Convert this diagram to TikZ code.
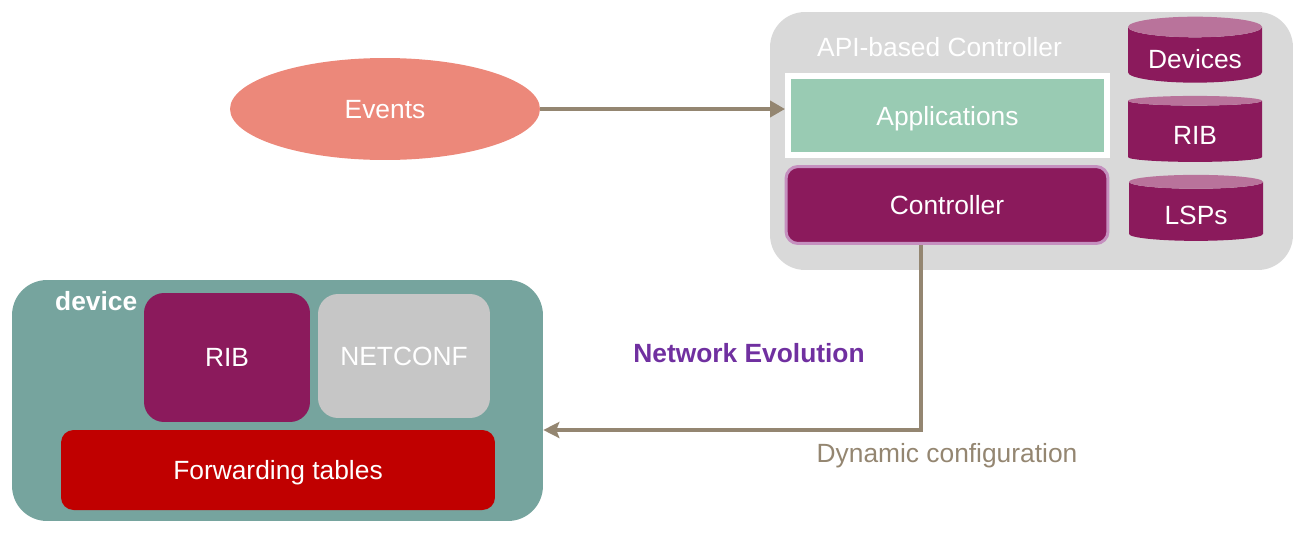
\documentclass[tikz,border=0pt]{standalone}
\usepackage{fontspec}
\setmainfont{Liberation Sans}
\usetikzlibrary{shapes.geometric,arrows.meta,shadows}
\definecolor{evcolor}{HTML}{EC887A}
\definecolor{linkcolor}{HTML}{948671}
\definecolor{boxgrey}{HTML}{D9D9D9}
\definecolor{appgreen}{HTML}{99CBB3}
\definecolor{plum}{HTML}{8B1A5C}
\definecolor{plumlight}{HTML}{C590BF}
\definecolor{plumtop}{HTML}{B9739B}
\definecolor{devteal}{HTML}{76A49E}
\definecolor{confgrey}{HTML}{C6C6C6}
\definecolor{fwdred}{HTML}{C00000}
\definecolor{evopurple}{HTML}{7030A0}
\begin{document}
\begin{tikzpicture}[x=0.02cm,y=-0.02cm,font=\fontsize{15}{18}\selectfont,
  block/.style={shape=rectangle,inner sep=0pt,text=white,text depth=0pt},
  store/.style={shape=cylinder,shape border rotate=90,aspect=0.22,inner sep=0pt,
    minimum width=2.68cm,minimum height=1.32cm,text=white,text depth=0pt,text height=15pt,
    cylinder uses custom fill,cylinder body fill=plum,cylinder end fill=plumtop},
  link/.style={draw=linkcolor,line width=0.09cm}]
\useasboundingbox (0,0) rectangle (1308,538);

% controller side
\node[block,fill=boxgrey,rounded corners=0.7cm,minimum width=10.46cm,minimum height=5.16cm] (api) at (1031.5,141) {};
\node[anchor=west,text=white] (apititle) at (811,47) {API-based Controller};
\node[block,fill=appgreen,draw=white,line width=0.12cm,minimum width=6.38cm,minimum height=1.58cm,
  drop shadow={shadow xshift=0pt,shadow yshift=-0.05cm,opacity=0.25}] (apps) at (947.5,115.5) {Applications};
\node[block,fill=plum,draw=plumlight,line width=0.06cm,rounded corners=0.24cm,minimum width=6.44cm,minimum height=1.54cm] (ctrl) at (947,205) {Controller};
\node[store] (devs) at (1195,55) {Devices};
\node[store] (rib) at (1195,131.5) {RIB};
\node[store] (lsps) at (1196,211.5) {LSPs};

\node[shape=ellipse,fill=evcolor,inner sep=0pt,minimum width=6.2cm,minimum height=2.04cm,text=white,text depth=0pt] (ev) at (385,109) {Events};

% device side
\node[block,fill=devteal,rounded corners=0.7cm,minimum width=10.62cm,minimum height=4.82cm] (dev) at (277.5,400.5) {};
\node[anchor=west,text=white,font=\fontsize{15}{18}\selectfont\bfseries] (devtitle) at (49,301) {device};
\node[block,fill=plum,rounded corners=0.4cm,minimum width=3.32cm,minimum height=2.58cm] (drib) at (227,357.5) {RIB};
\node[block,fill=confgrey,rounded corners=0.4cm,minimum width=3.44cm,minimum height=2.48cm] (conf) at (404,356) {NETCONF};
\node[block,fill=fwdred,rounded corners=0.25cm,minimum width=8.68cm,minimum height=1.6cm] (fwd) at (278,470) {Forwarding tables};

\node[text=evopurple,font=\fontsize{15}{18}\selectfont\bfseries] (evo) at (749,353) {Network Evolution};
\node[text=linkcolor,text depth=0pt] (dyn) at (947,453) {Dynamic configuration};

\coordinate (bend) at (921,430);
\draw[link,-{Triangle[length=0.3cm,width=0.32cm]}] (ev.east) -- (ev.east -| apps.west);
\draw[link,-{Stealth[length=0.32cm,width=0.32cm,inset=0.06cm]}] (ctrl.south -| bend) -- (bend) -- (bend -| dev.east);
\end{tikzpicture}
\end{document}
